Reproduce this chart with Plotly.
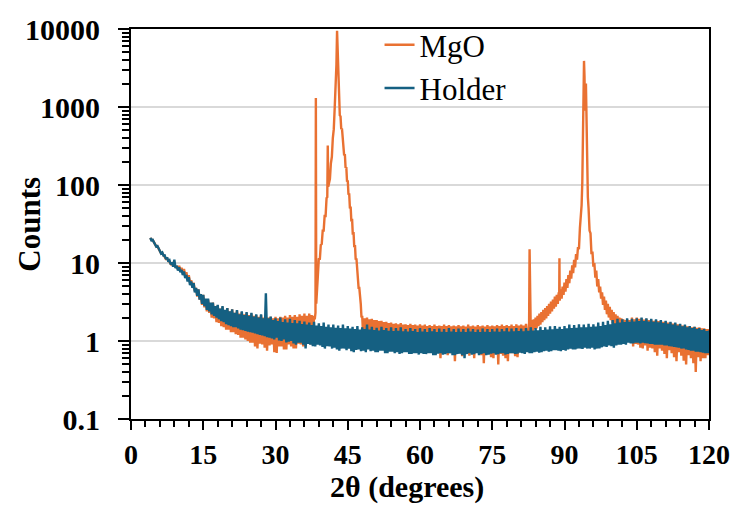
import plotly.graph_objects as go

# ---------------- data ----------------
STEP = 0.25  # 2-theta step of the tabulated background points (degrees)

# Holder: 4.0 .. 120.0 deg, every 0.25 deg (one row = one degree)
holder_start = 4.0
holder_counts = [
    21, 19.5, 19.8, 18.2,        # 4
    17.5, 16.2, 16.5, 15.2,      # 5
    14.5, 13.2, 13.6, 12.4,      # 6
    12.5, 11.2, 11.8, 10.4,      # 7
    10.8, 9.6, 10.2, 9.0,        # 8
    11.0, 8.6, 9.2, 8.0,         # 9
    8.8, 7.6, 8.2, 7.0,          # 10
    7.8, 6.4, 7.0, 5.8,          # 11
    6.6, 5.2, 5.8, 4.8,          # 12
    5.5, 4.2, 4.8, 3.8,          # 13
    4.6, 3.4, 4.0, 3.0,          # 14
    3.9, 2.8, 3.5, 2.5,          # 15
    3.5, 2.4, 3.1, 2.2,          # 16
    3.1, 2.1, 2.8, 2.0,          # 17
    2.9, 1.9, 2.6, 1.8,          # 18
    2.8, 1.75, 2.5, 1.65,        # 19
    2.65, 1.6, 2.4, 1.55,        # 20
    2.55, 1.5, 2.3, 1.5,         # 21
    2.5, 1.45, 2.2, 1.4,         # 22
    2.4, 1.38, 2.15, 1.35,       # 23
    2.35, 1.32, 2.1, 1.3,        # 24
    2.3, 1.28, 2.05, 1.25,       # 25
    2.2, 1.22, 2.0, 1.2,         # 26
    2.2, 1.18, 1.95, 1.15,       # 27
    4.1, 1.12, 1.95, 1.1,        # 28
    2.05, 1.08, 1.85, 1.05,      # 29
    1.95, 1.1, 1.8, 1.02,        # 30
    2.0, 1.0, 1.75, 1.05,        # 31
    1.9, 0.96, 1.72, 0.98,       # 32
    1.92, 1.0, 1.7, 0.93,        # 33
    1.85, 0.9, 1.68, 0.95,       # 34
    1.82, 0.95, 1.65, 0.9,       # 35
    1.78, 0.8, 1.62, 0.92,       # 36
    1.72, 0.9, 1.6, 0.86,        # 37
    1.76, 0.85, 1.58, 0.9,       # 38
    1.68, 0.88, 1.55, 0.84,      # 39
    1.72, 0.8, 1.52, 0.86,       # 40
    1.62, 0.85, 1.5, 0.8,        # 41
    1.62, 0.82, 1.48, 0.78,      # 42
    1.58, 0.75, 1.46, 0.8,       # 43
    1.62, 0.8, 1.45, 0.76,       # 44
    1.56, 0.8, 1.44, 0.74,       # 45
    1.52, 0.72, 1.42, 0.77,      # 46
    1.56, 0.78, 1.4, 0.74,       # 47
    1.5, 0.75, 1.42, 0.72,       # 48
    1.62, 0.78, 1.4, 0.74,       # 49
    1.52, 0.75, 1.38, 0.72,      # 50
    1.48, 0.72, 1.36, 0.75,      # 51
    1.52, 0.75, 1.38, 0.7,       # 52
    1.46, 0.7, 1.35, 0.73,       # 53
    1.5, 0.73, 1.34, 0.7,        # 54
    1.46, 0.72, 1.35, 0.68,      # 55
    1.5, 0.7, 1.33, 0.72,        # 56
    1.42, 0.72, 1.32, 0.68,      # 57
    1.46, 0.68, 1.34, 0.7,       # 58
    1.42, 0.7, 1.3, 0.67,        # 59
    1.46, 0.7, 1.32, 0.68,       # 60
    1.42, 0.68, 1.3, 0.7,        # 61
    1.46, 0.7, 1.33, 0.66,       # 62
    1.42, 0.66, 1.3, 0.69,       # 63
    1.44, 0.7, 1.31, 0.67,       # 64
    1.42, 0.68, 1.3, 0.7,        # 65
    1.46, 0.7, 1.32, 0.66,       # 66
    1.42, 0.66, 1.3, 0.68,       # 67
    1.44, 0.69, 1.31, 0.66,      # 68
    1.42, 0.6, 1.3, 0.68,        # 69
    1.44, 0.7, 1.32, 0.67,       # 70
    1.42, 0.68, 1.3, 0.7,        # 71
    1.4, 0.66, 1.3, 0.68,        # 72
    1.44, 0.7, 1.31, 0.66,       # 73
    1.42, 0.67, 1.3, 0.69,       # 74
    1.42, 0.7, 1.32, 0.67,       # 75
    1.44, 0.68, 1.31, 0.7,       # 76
    1.42, 0.7, 1.33, 0.67,       # 77
    1.46, 0.68, 1.32, 0.7,       # 78
    1.44, 0.7, 1.33, 0.68,       # 79
    1.46, 0.69, 1.34, 0.71,      # 80
    1.44, 0.7, 1.33, 0.68,       # 81
    1.46, 0.72, 1.35, 0.7,       # 82
    1.5, 0.7, 1.36, 0.72,        # 83
    1.46, 0.73, 1.37, 0.71,      # 84
    1.52, 0.72, 1.38, 0.74,      # 85
    1.5, 0.75, 1.4, 0.73,        # 86
    1.54, 0.74, 1.41, 0.76,      # 87
    1.56, 0.76, 1.43, 0.75,      # 88
    1.52, 0.74, 1.42, 0.77,      # 89
    1.56, 0.75, 1.45, 0.78,      # 90
    1.62, 0.8, 1.47, 0.78,       # 91
    1.6, 0.78, 1.48, 0.8,        # 92
    1.64, 0.8, 1.5, 0.79,        # 93
    1.62, 0.82, 1.5, 0.8,        # 94
    1.66, 0.8, 1.52, 0.82,       # 95
    1.64, 0.78, 1.53, 0.8,       # 96
    1.72, 0.8, 1.56, 0.83,       # 97
    1.76, 0.85, 1.6, 0.84,       # 98
    1.82, 0.88, 1.64, 0.86,      # 99
    1.86, 0.82, 1.68, 0.88,      # 100
    1.92, 0.9, 1.72, 0.9,        # 101
    1.9, 0.92, 1.75, 0.9,        # 102
    1.96, 0.95, 1.76, 0.93,      # 103
    1.92, 0.93, 1.78, 0.95,      # 104
    1.96, 0.95, 1.8, 0.93,       # 105
    2.0, 0.95, 1.8, 0.94,        # 106
    1.96, 0.93, 1.78, 0.92,      # 107
    1.92, 0.92, 1.76, 0.9,       # 108
    1.9, 0.9, 1.74, 0.9,         # 109
    1.86, 0.9, 1.7, 0.88,        # 110
    1.82, 0.88, 1.66, 0.86,      # 111
    1.76, 0.85, 1.62, 0.84,      # 112
    1.72, 0.83, 1.58, 0.82,      # 113
    1.66, 0.8, 1.54, 0.8,        # 114
    1.62, 0.78, 1.5, 0.77,       # 115
    1.56, 0.75, 1.46, 0.75,      # 116
    1.52, 0.73, 1.42, 0.73,      # 117
    1.46, 0.72, 1.38, 0.71,      # 118
    1.42, 0.7, 1.34, 0.7,        # 119
    1.36,                        # 120
]

# MgO background part 1: 4.0 .. 38.0 deg, every 0.25 deg
mgo_bg1_start = 4.0
mgo_bg1_counts = [
    21, 19.8, 19.8, 18.5,        # 4
    17.2, 16.3, 16.3, 15.3,      # 5
    14.3, 13.3, 13.4, 12.5,      # 6
    12.2, 11.3, 11.5, 10.6,      # 7
    10.4, 9.7, 9.9, 9.1,         # 8
    9.7, 8.8, 9.2, 8.3,          # 9
    9.2, 8.0, 8.7, 7.5,          # 10
    8.4, 6.9, 7.6, 6.2,          # 11
    7.0, 5.6, 6.0, 4.9,          # 12
    5.6, 4.4, 4.8, 3.7,          # 13
    4.6, 3.4, 3.9, 2.9,          # 14
    3.9, 2.7, 3.4, 2.4,          # 15
    3.4, 2.3, 3.0, 2.0,          # 16
    3.1, 1.95, 2.7, 1.75,        # 17
    2.85, 1.7, 2.6, 1.55,        # 18
    2.75, 1.5, 2.5, 1.4,         # 19
    2.65, 1.4, 2.4, 1.3,         # 20
    2.55, 1.3, 2.3, 1.22,        # 21
    2.45, 1.2, 2.25, 1.1,        # 22
    2.35, 1.1, 2.2, 1.05,        # 23
    2.3, 1.0, 2.15, 0.95,        # 24
    2.25, 0.95, 2.1, 0.85,       # 25
    2.15, 0.8, 2.05, 0.92,       # 26
    2.15, 0.9, 2.0, 0.82,        # 27
    2.05, 0.75, 2.0, 0.88,       # 28
    2.05, 0.9, 1.95, 0.72,       # 29
    2.05, 0.7, 1.95, 0.85,       # 30
    2.05, 0.85, 2.0, 0.78,       # 31
    2.1, 0.78, 2.0, 0.9,         # 32
    2.15, 0.85, 2.05, 0.8,       # 33
    2.15, 0.8, 2.05, 0.92,       # 34
    2.2, 0.9, 2.1, 0.85,         # 35
    2.25, 0.85, 2.1, 0.95,       # 36
    2.25, 0.9, 2.15, 0.95,       # 37
    2.1,                         # 38
]

# MgO (200) region with the sharp line near 38.4 deg
mgo_peak1_theta = [
    38.15, 38.3, 38.38, 38.46, 38.6, 38.8, 39.0, 39.2, 39.4, 39.6,
    39.8, 40.0, 40.2, 40.4, 40.6, 40.75, 40.85, 40.95, 41.1, 41.3,
    41.5, 41.7, 41.9, 42.1, 42.3, 42.5, 42.65, 42.78, 42.9, 43.05,
    43.2, 43.35, 43.5, 43.65, 43.8, 43.95, 44.1, 44.25, 44.4, 44.55,
    44.7, 44.85, 45.0, 45.15, 45.3, 45.45, 45.6, 45.75, 45.9, 46.05,
    46.2, 46.35, 46.5, 46.65, 46.8, 46.95, 47.1, 47.25, 47.4, 47.55,
    47.7, 47.85,
]
mgo_peak1_counts = [
    1.9, 2.3, 1300, 3.0, 5.5, 7.0, 11.5, 11, 17, 17.5,
    26, 26, 40, 40, 68, 70, 320, 95, 105, 120,
    190, 230, 400, 520, 1000, 1800, 3500, 9500, 5000, 2000,
    1100, 780, 760, 520, 530, 360, 360, 240, 250, 165,
    170, 110, 115, 75, 78, 50, 53, 34, 37, 23,
    25, 16, 17, 11, 11.5, 7.5, 7.5, 4.8, 4.8, 3.0,
    3.0, 2.0,
]

# MgO background part 2: 48.0 .. 82.5 deg, every 0.25 deg
mgo_bg2_start = 48.0
mgo_bg2_counts = [
    2.1, 1.0, 1.95, 1.05,        # 48
    2.0, 0.95, 1.9, 1.0,         # 49
    1.92, 0.9, 1.85, 0.95,       # 50
    1.86, 0.85, 1.8, 0.9,        # 51
    1.82, 0.85, 1.75, 0.82,      # 52
    1.76, 0.8, 1.7, 0.86,        # 53
    1.72, 0.85, 1.66, 0.78,      # 54
    1.68, 0.8, 1.64, 0.82,       # 55
    1.7, 0.78, 1.62, 0.8,        # 56
    1.64, 0.8, 1.6, 0.74,        # 57
    1.66, 0.75, 1.6, 0.8,        # 58
    1.62, 0.78, 1.58, 0.72,      # 59
    1.64, 0.75, 1.58, 0.78,      # 60
    1.62, 0.7, 1.56, 0.76,       # 61
    1.6, 0.75, 1.56, 0.68,       # 62
    1.62, 0.72, 1.55, 0.76,      # 63
    1.58, 0.6, 1.55, 0.72,       # 64
    1.62, 0.72, 1.55, 0.66,      # 65
    1.6, 0.7, 1.54, 0.74,        # 66
    1.58, 0.55, 1.54, 0.7,       # 67
    1.6, 0.7, 1.54, 0.64,        # 68
    1.58, 0.68, 1.53, 0.72,      # 69
    1.62, 0.65, 1.54, 0.7,       # 70
    1.58, 0.6, 1.53, 0.72,       # 71
    1.6, 0.7, 1.54, 0.66,        # 72
    1.58, 0.52, 1.53, 0.7,       # 73
    1.6, 0.68, 1.54, 0.62,       # 74
    1.58, 0.6, 1.54, 0.7,        # 75
    1.6, 0.5, 1.55, 0.68,        # 76
    1.62, 0.65, 1.55, 0.6,       # 77
    1.6, 0.55, 1.56, 0.7,        # 78
    1.62, 0.7, 1.56, 0.64,       # 79
    1.64, 0.62, 1.58, 0.72,      # 80
    1.62, 0.75, 1.58, 0.7,       # 81
    1.66, 0.8, 1.6,              # 82 - 82.5
]

# MgO (220) region with the sharp lines near 82.75 and 88.95 deg
mgo_peak2_theta = [
    82.65, 82.75, 82.85, 83.0, 83.2, 83.4, 83.6, 83.8, 84.0, 84.2,
    84.4, 84.6, 84.8, 85.0, 85.2, 85.4, 85.6, 85.8, 86.0, 86.2,
    86.4, 86.6, 86.8, 87.0, 87.2, 87.4, 87.6, 87.8, 88.0, 88.2,
    88.4, 88.6, 88.8, 88.9, 88.95, 89.0, 89.2, 89.4, 89.6, 89.8,
    90.0, 90.2, 90.4, 90.6, 90.8, 91.0, 91.2, 91.4, 91.6, 91.8,
    92.0, 92.2, 92.4, 92.6, 92.8, 93.0, 93.2, 93.4, 93.55, 93.7,
    93.85, 93.95, 94.05, 94.15, 94.25, 94.35, 94.45, 94.55, 94.7, 94.85,
    95.0, 95.2, 95.4, 95.6, 95.8, 96.0, 96.2, 96.4, 96.6, 96.8,
    97.0, 97.2, 97.4, 97.6, 97.8, 98.0, 98.2, 98.4, 98.6, 98.8,
    99.0, 99.2, 99.4, 99.6, 99.8, 100.0, 100.2, 100.4, 100.6, 100.8,
    101.0, 101.2, 101.4, 101.6, 101.8, 102.0, 102.2, 102.4, 102.6, 102.8,
]
mgo_peak2_counts = [
    1.7, 15, 1.8, 1.3, 1.85, 1.35, 1.9, 1.42, 2.0, 1.45,
    2.1, 1.55, 2.25, 1.62, 2.35, 1.75, 2.5, 1.85, 2.65, 1.95,
    2.8, 2.1, 3.0, 2.25, 3.2, 2.4, 3.4, 2.6, 3.7, 2.75,
    3.9, 3.0, 4.2, 3.4, 11.5, 3.3, 4.6, 3.5, 5.0, 3.9,
    5.6, 4.3, 6.2, 4.8, 7.0, 5.5, 8.0, 6.3, 9.3, 7.4,
    11, 8.8, 13, 11, 16, 15, 28, 40, 55, 110,
    350, 1200, 3900, 2500, 900, 1000, 2000, 500, 150, 70,
    50, 26, 24, 13, 14, 9, 10, 6.5, 8, 5.0,
    6.2, 4.2, 5.0, 3.5, 4.2, 2.9, 3.7, 2.5, 3.3, 2.2,
    3.0, 2.0, 2.75, 1.85, 2.5, 1.7, 2.35, 1.6, 2.2, 1.5,
    2.1, 1.45, 2.0, 1.4, 1.95, 1.35, 1.9, 1.3, 1.85, 1.2,
]

# MgO background part 3: 103.0 .. 120.0 deg, every 0.25 deg
mgo_bg3_start = 103.0
mgo_bg3_counts = [
    1.9, 1.0, 1.85, 0.95,        # 103
    2.0, 0.85, 1.9, 0.92,        # 104
    2.0, 0.9, 1.92, 0.82,        # 105
    1.96, 0.8, 1.88, 0.88,       # 106
    1.92, 0.75, 1.86, 0.82,      # 107
    1.88, 0.8, 1.82, 0.72,       # 108
    1.86, 0.65, 1.8, 0.8,        # 109
    1.82, 0.75, 1.76, 0.68,      # 110
    1.78, 0.6, 1.72, 0.76,       # 111
    1.72, 0.7, 1.68, 0.62,       # 112
    1.68, 0.55, 1.64, 0.72,      # 113
    1.62, 0.65, 1.58, 0.56,      # 114
    1.58, 0.5, 1.54, 0.66,       # 115
    1.54, 0.6, 1.5, 0.52,        # 116
    1.52, 0.4, 1.48, 0.62,       # 117
    1.5, 0.55, 1.46, 0.6,        # 118
    1.46, 0.6, 1.42, 0.66,       # 119
    1.42,                        # 120
]

x_tick_vals = [0, 15, 30, 45, 60, 75, 90, 105, 120]
y_tick_vals = [0.1, 1, 10, 100, 1000, 10000]
y_tick_text = ["0.1", "1", "10", "100", "1000", "10000"]

series_names = ["MgO", "Holder"]
series_colors = ["#E97132", "#156082"]


def grid(start, values):
    return [start + STEP * i for i in range(len(values))]


holder_theta = grid(holder_start, holder_counts)
mgo_theta = (grid(mgo_bg1_start, mgo_bg1_counts) + mgo_peak1_theta
             + grid(mgo_bg2_start, mgo_bg2_counts) + mgo_peak2_theta
             + grid(mgo_bg3_start, mgo_bg3_counts))
mgo_counts = (mgo_bg1_counts + mgo_peak1_counts + mgo_bg2_counts
              + mgo_peak2_counts + mgo_bg3_counts)

FONT = "Liberation Serif"
LINE_W = 2.4

fig = go.Figure()
fig.add_trace(go.Scatter(x=mgo_theta, y=mgo_counts, mode="lines",
                         name=series_names[0], legendgroup="a",
                         line=dict(color=series_colors[0], width=LINE_W)))
fig.add_trace(go.Scatter(x=holder_theta, y=holder_counts, mode="lines",
                         name=series_names[1], legendgroup="b",
                         line=dict(color=series_colors[1], width=LINE_W)))

fig.update_layout(
    width=742, height=508,
    margin=dict(l=131, r=29, t=25, b=89),
    paper_bgcolor="white", plot_bgcolor="white",
    showlegend=True,
    legend=dict(x=0.43, y=1.028, xanchor="left", yanchor="top",
                bgcolor="rgba(0,0,0,0)", tracegroupgap=0,
                font=dict(family=FONT, size=31, color="black")),
    annotations=[
        dict(text="2θ (degrees)", xref="paper", yref="paper",
             x=0.478, y=-0.174, xanchor="center", yanchor="middle",
             showarrow=False,
             font=dict(family=FONT, size=30, color="black", weight="bold")),
        dict(text="Counts", xref="paper", yref="paper",
             x=-0.177, y=0.5, xanchor="center", yanchor="middle",
             textangle=-90, showarrow=False,
             font=dict(family=FONT, size=31, color="black", weight="bold")),
    ],
)

fig.update_xaxes(
    range=[0, 120], tickvals=x_tick_vals,
    showline=True, linewidth=2, linecolor="black", mirror=True,
    ticks="outside", ticklen=9, tickwidth=2, tickcolor="black",
    minor=dict(dtick=3, ticks="outside", ticklen=6, tickwidth=2,
               tickcolor="black", showgrid=False),
    showgrid=False, zeroline=False, ticklabelstandoff=0,
    tickfont=dict(family=FONT, size=28, color="black", weight="bold"),
)
fig.update_yaxes(
    type="log", range=[-1, 4], tickvals=y_tick_vals, ticktext=y_tick_text,
    showline=True, linewidth=2, linecolor="black", mirror=True,
    ticks="outside", ticklen=11, tickwidth=2, tickcolor="black",
    minor=dict(dtick="D1", ticks="outside", ticklen=7, tickwidth=2,
               tickcolor="black", showgrid=False),
    showgrid=True, gridcolor="#D9D9D9", gridwidth=1.5, zeroline=False,
    ticklabelstandoff=12,
    tickfont=dict(family=FONT, size=30, color="black", weight="bold"),
)

fig.write_html("out.html")
